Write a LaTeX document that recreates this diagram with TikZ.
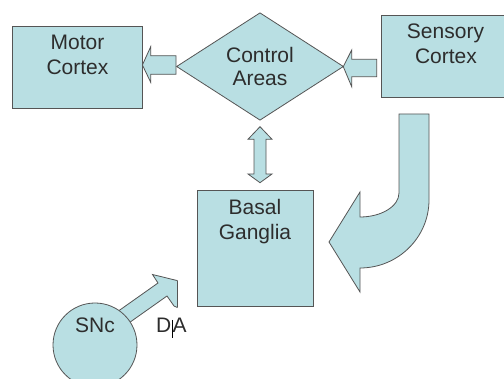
\documentclass[tikz,border=0pt]{standalone}
\usepackage{fontspec}
\setmainfont{Liberation Sans}
\usetikzlibrary{shapes.geometric}
\definecolor{shapefill}{RGB}{185,223,227}
\definecolor{shapeline}{RGB}{85,85,85}
\definecolor{txt}{RGB}{45,45,45}
\tikzset{
  shp/.style={fill=shapefill, draw=shapeline, line width=0.8pt, line join=miter},
  boxshape/.style={shp, rectangle, inner sep=0pt},
  lbl/.style={anchor=base, inner sep=0pt, text=txt, font=\fontsize{21}{24.5}\selectfont},
  blockarrow/.style={shp}
}
\begin{document}
\begin{tikzpicture}[x=1pt,y=-1pt]
\useasboundingbox (0,0) rectangle (504,379);
\clip (0,0) rectangle (504,379);
\fill[white] (0,0) rectangle (504,379);

% boxes
\node[boxshape, minimum width=130pt, minimum height=82pt] (motor) at (77,67) {};
\node[boxshape, minimum width=128pt, minimum height=82.7pt] (sens) at (445.7,56.35) {};
\node[boxshape, minimum width=116pt, minimum height=115.3pt] (basal) at (255.2,248.35) {};

% arrows between top shapes
\draw[blockarrow] (176,55.7) -- (150.7,55.7) -- (150.7,46.7) -- (motor.east |- 0,65) -- (150.7,82.3) -- (150.7,74.3) -- (176,74.3) -- cycle;
\draw[blockarrow] (376.7,59.3) -- (351.7,59.3) -- (351.7,50) -- (343.3,66.7) -- (351.7,86.7) -- (351.7,76.7) -- (376.7,76.7) -- cycle;

% diamond
\node[shp, diamond, inner sep=0pt, minimum width=167pt, minimum height=107.5pt] (ctrl) at (260,66.5) {};

% double arrow between control areas and basal ganglia
\draw[blockarrow] (260,126.7) -- (272,139.3) -- (266,139.3) -- (266,174) -- (272,174) -- (260,182.7) -- (248,174) -- (254,174) -- (254,139.3) -- (248,139.3) -- cycle;

% curved arrow from sensory cortex to basal ganglia
\draw[blockarrow] (399,114) -- (429,114) -- (429,200)
  .. controls (429,237.5) and (398,268) .. (360,268)
  -- (360,292) -- (329,242) -- (360,192) -- (360,217)
  .. controls (381.5,217) and (399,206.2) .. (399,193) -- cycle;

% SNc arrow (DA)
\begin{scope}
\clip (0,0) rectangle (177.5,379);
\draw[blockarrow] (117,312) -- (158,283) -- (152.5,274.5) -- (183,282) -- (183,310) -- (174,306) -- (167,296) -- (126,325) -- cycle;
\end{scope}
\draw[shapeline, line width=0.8pt] (177.5,280.6) -- (177.5,307.5);

% SNc circle
\node[shp, circle, inner sep=0pt, minimum size=84pt] (snc) at (95,345) {};

% labels
\node[lbl] (motorA) at (77.5,50) {Motor};
\node[lbl] (motorB) at (77.5,75) {Cortex};
\node[lbl] (ctrlA) at (260,62.7) {Control};
\node[lbl] (ctrlB) at (260,86) {Areas};
\node[lbl] (sensA) at (445.5,38.3) {Sensory};
\node[lbl] (sensB) at (446,63.3) {Cortex};
\node[lbl] (basalA) at (255,215) {Basal};
\node[lbl] (basalB) at (255,239.3) {Ganglia};
\node[lbl] (snclbl) at (95,333) {SNc};
\node[lbl, anchor=base east] (dad) at (171.5,333) {D};
\node[lbl, anchor=base west] (daa) at (dad.base east) {\kern0.8ptA};
\draw[black, line width=0.6pt] (172.1,320) -- (172.1,338);
\end{tikzpicture}
\end{document}
